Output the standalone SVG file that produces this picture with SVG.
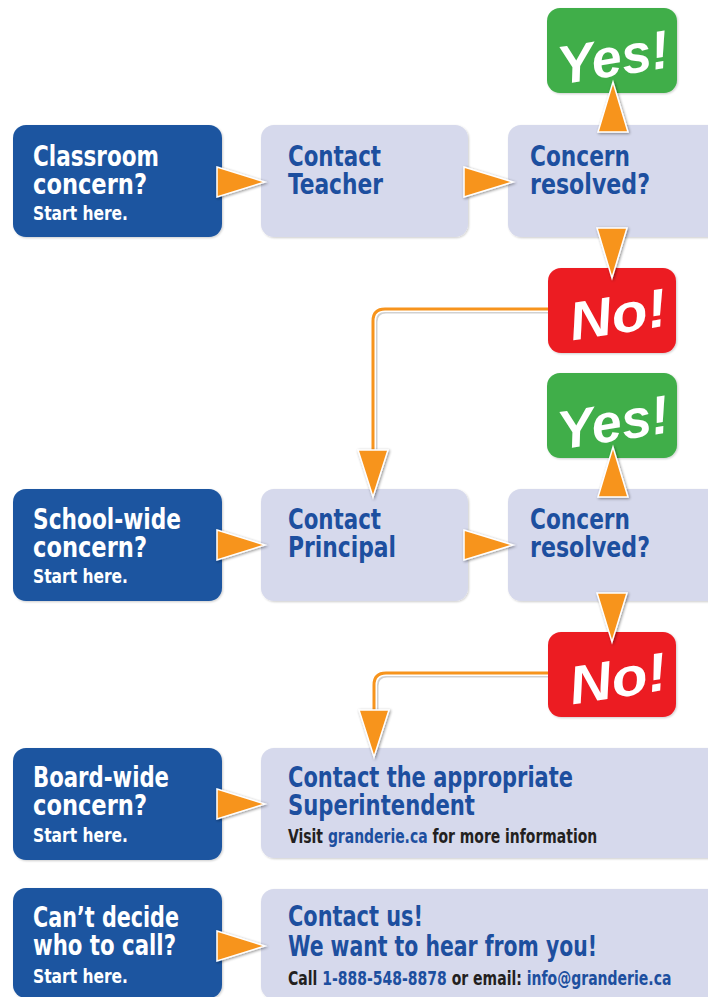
<svg xmlns="http://www.w3.org/2000/svg" width="708" height="997" viewBox="0 0 708 997">
<defs>
<filter id="sh" x="-20%" y="-20%" width="140%" height="140%">
<feGaussianBlur in="SourceAlpha" stdDeviation="1.5"/>
<feOffset dx="0.5" dy="0.5" result="b"/>
<feComponentTransfer><feFuncA type="linear" slope="0.45"/></feComponentTransfer>
<feMerge><feMergeNode/><feMergeNode in="SourceGraphic"/></feMerge>
</filter>
<filter id="bs" x="-5%" y="-5%" width="110%" height="110%">
<feGaussianBlur in="SourceAlpha" stdDeviation="1"/>
<feOffset dx="0.5" dy="0.5"/>
<feComponentTransfer><feFuncA type="linear" slope="0.2"/></feComponentTransfer>
<feMerge><feMergeNode/><feMergeNode in="SourceGraphic"/></feMerge>
</filter>
</defs>
<style>
.dark{fill:#1c55a0;filter:url(#bs)}
.light{fill:#d6d9ec;filter:url(#bs)}
.yes{fill:#3fae49;filter:url(#bs)}
.no{fill:#ec1c24;filter:url(#bs)}
.t{font-family:"Liberation Sans Narrow","DejaVu Sans Condensed","Liberation Sans",sans-serif;font-weight:bold;}
.big{font-size:28px;}
.sm{font-size:19px;}
.st{font-size:20px;}
.w{fill:#ffffff;}
.b{fill:#1d4f9f;}
.k{fill:#231f20;}
.hand{font-family:"Liberation Sans","DejaVu Sans",sans-serif;font-weight:bold;font-style:italic;fill:#ffffff;font-size:54px;}
.tri{fill:#f7941d;stroke:#ffffff;stroke-width:1.5;stroke-linejoin:miter;filter:url(#sh)}
.lsh{fill:none;stroke:#999999;stroke-width:7;opacity:0.45}
.lw{fill:none;stroke:#ffffff;stroke-width:6}
.lo{fill:none;stroke:#f7941d;stroke-width:3}
</style>
<rect width="708" height="997" fill="#ffffff"/>

<g id="start-classroom">
<rect class="dark" x="13" y="125" width="209" height="112" rx="13"/>
<text class="t big w" x="33" y="166" textLength="126" lengthAdjust="spacingAndGlyphs">Classroom</text>
<text class="t big w" x="33" y="194" textLength="114" lengthAdjust="spacingAndGlyphs">concern?</text>
<text class="t st w" x="33" y="220" textLength="95" lengthAdjust="spacingAndGlyphs">Start here.</text>
</g>
<g id="contact-teacher">
<rect class="light" x="261" y="125" width="207" height="112" rx="13"/>
<text class="t big b" x="288" y="166" textLength="93" lengthAdjust="spacingAndGlyphs">Contact</text>
<text class="t big b" x="288" y="194" textLength="95" lengthAdjust="spacingAndGlyphs">Teacher</text>
</g>
<g id="resolved-1">
<rect class="light" x="508" y="125" width="215" height="112" rx="13"/>
<text class="t big b" x="530" y="166" textLength="100" lengthAdjust="spacingAndGlyphs">Concern</text>
<text class="t big b" x="530" y="194" textLength="120" lengthAdjust="spacingAndGlyphs">resolved?</text>
</g>
<g id="yes-1">
<rect class="yes" x="547" y="8" width="130" height="85" rx="13"/>
<text class="hand" x="556" y="76" transform="rotate(-9 612 50)" textLength="112" lengthAdjust="spacingAndGlyphs">Yes!</text>
</g>
<g id="no-1">
<rect class="no" x="548" y="268" width="128" height="85" rx="13"/>
<text class="hand" x="568" y="334" transform="rotate(-9 612 310)" textLength="98" lengthAdjust="spacingAndGlyphs">No!</text>
</g>

<g id="start-school">
<rect class="dark" x="13" y="489" width="209" height="112" rx="13"/>
<text class="t big w" x="33" y="529" textLength="148" lengthAdjust="spacingAndGlyphs">School-wide</text>
<text class="t big w" x="33" y="557" textLength="114" lengthAdjust="spacingAndGlyphs">concern?</text>
<text class="t st w" x="33" y="583" textLength="95" lengthAdjust="spacingAndGlyphs">Start here.</text>
</g>
<g id="contact-principal">
<rect class="light" x="261" y="489" width="207" height="112" rx="13"/>
<text class="t big b" x="288" y="529" textLength="93" lengthAdjust="spacingAndGlyphs">Contact</text>
<text class="t big b" x="288" y="557" textLength="108" lengthAdjust="spacingAndGlyphs">Principal</text>
</g>
<g id="resolved-2">
<rect class="light" x="508" y="489" width="215" height="112" rx="13"/>
<text class="t big b" x="530" y="529" textLength="100" lengthAdjust="spacingAndGlyphs">Concern</text>
<text class="t big b" x="530" y="557" textLength="120" lengthAdjust="spacingAndGlyphs">resolved?</text>
</g>
<g id="yes-2">
<rect class="yes" x="547" y="373" width="130" height="85" rx="13"/>
<text class="hand" x="556" y="441" transform="rotate(-9 612 415)" textLength="112" lengthAdjust="spacingAndGlyphs">Yes!</text>
</g>
<g id="no-2">
<rect class="no" x="548" y="632" width="128" height="85" rx="13"/>
<text class="hand" x="568" y="698" transform="rotate(-9 612 674)" textLength="98" lengthAdjust="spacingAndGlyphs">No!</text>
</g>

<g id="start-board">
<rect class="dark" x="13" y="748" width="209" height="112" rx="13"/>
<text class="t big w" x="33" y="787" textLength="136" lengthAdjust="spacingAndGlyphs">Board-wide</text>
<text class="t big w" x="33" y="815" textLength="114" lengthAdjust="spacingAndGlyphs">concern?</text>
<text class="t st w" x="33" y="842" textLength="95" lengthAdjust="spacingAndGlyphs">Start here.</text>
</g>
<g id="contact-superintendent">
<rect class="light" x="261" y="748" width="462" height="110" rx="13"/>
<text class="t big b" x="288" y="787" textLength="285" lengthAdjust="spacingAndGlyphs">Contact the appropriate</text>
<text class="t big b" x="288" y="815" textLength="187" lengthAdjust="spacingAndGlyphs">Superintendent</text>
<text class="t sm" transform="translate(288,843) scale(0.816,1)"><tspan class="k">Visit </tspan><tspan class="b">granderie.ca</tspan><tspan class="k"> for more information</tspan></text>
</g>

<g id="start-undecided">
<rect class="dark" x="13" y="888" width="209" height="110" rx="13"/>
<text class="t big w" x="33" y="927" textLength="146" lengthAdjust="spacingAndGlyphs">Can’t decide</text>
<text class="t big w" x="33" y="955" textLength="143" lengthAdjust="spacingAndGlyphs">who to call?</text>
<text class="t st w" x="33" y="983" textLength="95" lengthAdjust="spacingAndGlyphs">Start here.</text>
</g>
<g id="contact-us">
<rect class="light" x="261" y="889" width="462" height="110" rx="13"/>
<text class="t big b" x="288" y="926" textLength="135" lengthAdjust="spacingAndGlyphs">Contact us!</text>
<text class="t big b" x="288" y="956" textLength="309" lengthAdjust="spacingAndGlyphs">We want to hear from you!</text>
<text class="t sm" transform="translate(288,985) scale(0.82,1)"><tspan class="k">Call </tspan><tspan class="b">1-888-548-8878</tspan><tspan class="k"> or email: </tspan><tspan class="b">info@granderie.ca</tspan></text>
</g>

<g id="connectors">
<path class="lsh" d="M548,310 H386 Q374,310 374,322 V455"/>
<path class="lw" d="M548,309 H385 Q373,309 373,321 V455"/>
<path class="lo" d="M548,309 H385 Q373,309 373,321 V455"/>
<path class="lsh" d="M548,674 H387 Q375,674 375,686 V715"/>
<path class="lw" d="M548,673 H386 Q374,673 374,685 V715"/>
<path class="lo" d="M548,673 H386 Q374,673 374,685 V715"/>
<path class="tri" d="M217,167 L265,182 L217,197 Z"/>
<path class="tri" d="M464,167 L513,182 L464,197 Z"/>
<path class="tri" d="M598,132 L613,82 L628,132 Z"/>
<path class="tri" d="M597,228 L612,278 L627,228 Z"/>
<path class="tri" d="M358,450 L373,497 L388,450 Z"/>
<path class="tri" d="M217,530 L265,545 L217,560 Z"/>
<path class="tri" d="M464,530 L513,545 L464,560 Z"/>
<path class="tri" d="M598,497 L613,447 L628,497 Z"/>
<path class="tri" d="M597,593 L612,642 L627,593 Z"/>
<path class="tri" d="M359,710 L374,757 L389,710 Z"/>
<path class="tri" d="M217,789 L265,804 L217,819 Z"/>
<path class="tri" d="M217,931 L265,946 L217,961 Z"/>
</g>
</svg>
